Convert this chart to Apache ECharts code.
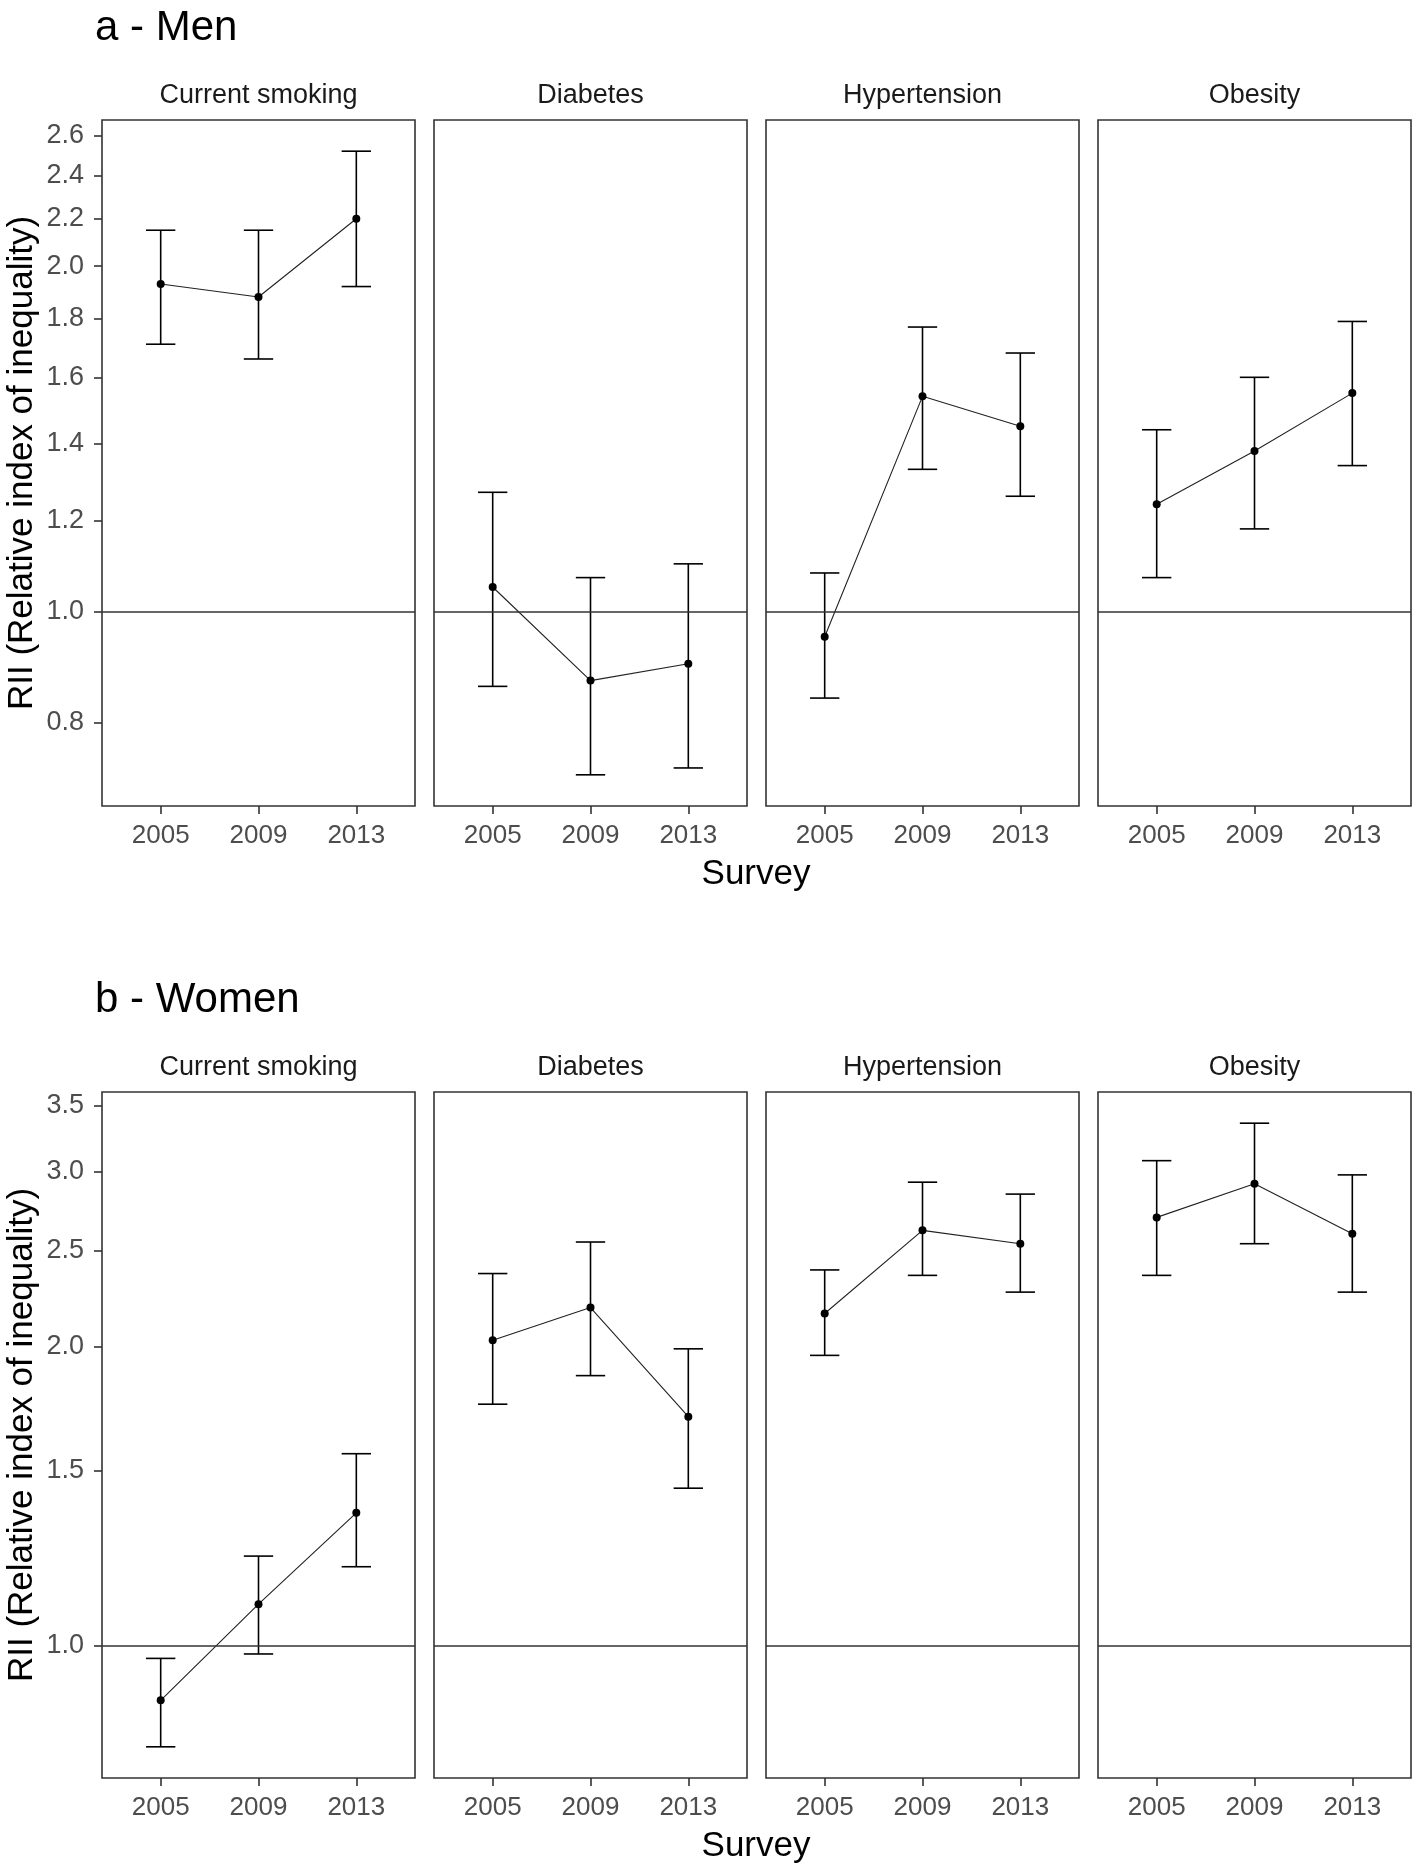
<!DOCTYPE html>
<html>
<head>
<meta charset="utf-8">
<script src="https://cdn.jsdelivr.net/npm/echarts@6/dist/echarts.min.js"></script>
<style>
  html, body { margin: 0; padding: 0; background: #fff; }
  #chart { width: 1418px; height: 1868px; }
</style>
</head>
<body>
<div id="chart"></div>
<script>
// survey years and facets
let years = ['2005', '2009', '2013'];
let outcomes = ['Current smoking', 'Diabetes', 'Hypertension', 'Obesity'];

// RII estimates with 95% CI, one row per outcome (same order as outcomes)
let menEst = [[1.93, 1.88, 2.20], [1.05, 0.87, 0.90], [0.95, 1.54, 1.45], [1.24, 1.38, 1.55]];
let menLow = [[1.71, 1.66, 1.92], [0.86, 0.72, 0.73], [0.84, 1.33, 1.26], [1.07, 1.18, 1.34]];
let menHigh = [[2.15, 2.15, 2.52], [1.27, 1.07, 1.10], [1.08, 1.77, 1.68], [1.44, 1.60, 1.79]];

let womenEst = [[0.88, 1.10, 1.36], [2.03, 2.19, 1.70], [2.16, 2.62, 2.54], [2.70, 2.92, 2.60]];
let womenLow = [[0.79, 0.98, 1.20], [1.75, 1.87, 1.44], [1.96, 2.36, 2.27], [2.36, 2.54, 2.27]];
let womenHigh = [[0.97, 1.23, 1.56], [2.37, 2.55, 1.99], [2.39, 2.93, 2.85], [3.08, 3.36, 2.98]];

let menTicks = [0.8, 1.0, 1.2, 1.4, 1.6, 1.8, 2.0, 2.2, 2.4, 2.6];
let womenTicks = [1.0, 1.5, 2.0, 2.5, 3.0, 3.5];

const FONT = "'Liberation Sans', Arial, sans-serif";
const facetLeft = [102, 434, 766, 1098];
const facetW = 313;
const panelH = 686;
const rows = [
  { title: 'a - Men', top: 120, est: menEst, low: menLow, high: menHigh, ticks: menTicks },
  { title: 'b - Women', top: 1092, est: womenEst, low: womenLow, high: womenHigh, ticks: womenTicks }
];

let chart = echarts.init(document.getElementById('chart'), null, { renderer: 'canvas' });

function renderErr(params, api) {
  let x = api.value(0);
  let lo = api.coord([x, api.value(1)]);
  let hi = api.coord([x, api.value(2)]);
  let half = api.size([0.3, 0])[0] / 2;
  let style = { stroke: '#000', lineWidth: 1.6 };
  return {
    type: 'group',
    children: [
      { type: 'line', shape: { x1: lo[0], y1: lo[1], x2: hi[0], y2: hi[1] }, style },
      { type: 'line', shape: { x1: lo[0] - half, y1: lo[1], x2: lo[0] + half, y2: lo[1] }, style },
      { type: 'line', shape: { x1: hi[0] - half, y1: hi[1], x2: hi[0] + half, y2: hi[1] }, style }
    ]
  };
}

let grid = [], xAxis = [], yAxis = [], series = [], graphic = [];

rows.forEach((row, r) => {
  // ggplot-like 5% expansion on the log scale
  let all = [].concat(...row.low, ...row.high).map(Math.log);
  let lmin = Math.min(...all), lmax = Math.max(...all);
  let pad = (lmax - lmin) * 0.05;

  graphic.push({
    type: 'text', x: 95, y: row.top - 92,
    style: { text: row.title, font: '42px ' + FONT, fill: '#000', textAlign: 'left', textVerticalAlign: 'middle' }
  });
  graphic.push({
    type: 'text', x: 756, y: row.top + panelH + 68,
    style: { text: 'Survey', font: '35px ' + FONT, fill: '#000', textAlign: 'center', textVerticalAlign: 'middle' }
  });
  graphic.push({
    type: 'text', x: 22, y: row.top + panelH / 2, rotation: Math.PI / 2,
    style: { text: 'RII (Relative index of inequality)', font: '35px ' + FONT, fill: '#000', textAlign: 'center', textVerticalAlign: 'middle' }
  });

  outcomes.forEach((name, c) => {
    let idx = r * 4 + c;
    grid.push({
      left: facetLeft[c], top: row.top, width: facetW, height: panelH,
      show: true, borderColor: '#333', borderWidth: 1.6, backgroundColor: '#fff'
    });
    graphic.push({
      type: 'text', x: facetLeft[c] + facetW / 2, y: row.top - 24,
      style: { text: name, font: '27px ' + FONT, fill: '#1a1a1a', textAlign: 'center', textVerticalAlign: 'middle' }
    });
    xAxis.push({
      type: 'value', gridIndex: idx, min: 0.4, max: 3.6,
      axisLine: { show: false, onZero: false },
      splitLine: { show: false },
      axisTick: { show: true, length: 8, lineStyle: { color: '#333', width: 1.6 }, customValues: [1, 2, 3] },
      axisLabel: {
        show: true, margin: 17, fontSize: 26, fontFamily: FONT, color: '#4d4d4d',
        customValues: [1, 2, 3],
        formatter: v => years[Math.round(v) - 1]
      }
    });
    let tickVals = row.ticks.map(Math.log);
    yAxis.push({
      type: 'value', gridIndex: idx, min: lmin - pad, max: lmax + pad,
      axisLine: { show: false, onZero: false },
      splitLine: { show: false },
      axisTick: { show: c === 0, length: 8, lineStyle: { color: '#333', width: 1.6 }, customValues: tickVals },
      axisLabel: {
        show: c === 0, margin: 18, fontSize: 27, fontFamily: FONT, color: '#4d4d4d',
        customValues: tickVals,
        formatter: v => Math.exp(v).toFixed(1)
      }
    });
    series.push({
      type: 'custom', xAxisIndex: idx, yAxisIndex: idx, z: 3,
      renderItem: renderErr,
      encode: { x: 0, y: [1, 2] },
      data: years.map((y, i) => [i + 1, Math.log(row.low[c][i]), Math.log(row.high[c][i])]),
      silent: true
    });
    series.push({
      type: 'line', xAxisIndex: idx, yAxisIndex: idx, z: 4,
      data: years.map((y, i) => [i + 1, Math.log(row.est[c][i])]),
      symbol: 'circle', symbolSize: 8,
      itemStyle: { color: '#000' },
      lineStyle: { color: '#222', width: 1.1 },
      animation: false, silent: true,
      markLine: {
        silent: true, symbol: 'none', label: { show: false },
        lineStyle: { color: '#333', width: 1.6, type: 'solid' },
        data: [{ yAxis: 0 }]
      }
    });
  });
});

chart.setOption({
  backgroundColor: '#fff',
  animation: false,
  grid, xAxis, yAxis, series, graphic
});
</script>
</body>
</html>
